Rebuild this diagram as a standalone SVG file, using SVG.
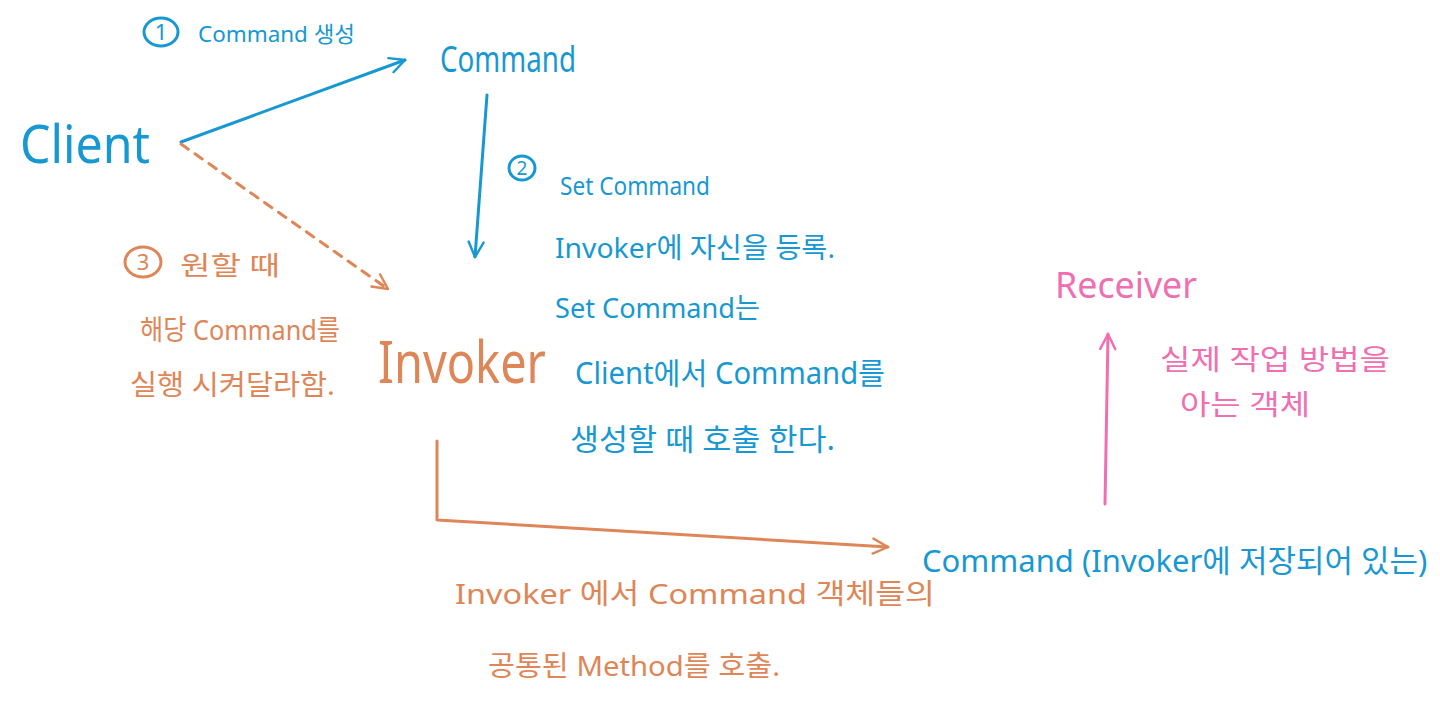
<svg xmlns="http://www.w3.org/2000/svg" width="1440" height="712" viewBox="0 0 1440 712">
<style>
text{font-family:"Noto Sans","Noto Sans CJK KR",sans-serif;font-weight:400}
.b{fill:#1798d2}.o{fill:#de8657}.p{fill:#f06fb1}
.lb{stroke:#1798d2;stroke-width:3;fill:none;stroke-linecap:round;stroke-linejoin:round}
.lo{stroke:#de8657;stroke-width:3;fill:none;stroke-linecap:round;stroke-linejoin:round}
.lp{stroke:#f06fb1;stroke-width:3;fill:none;stroke-linecap:round;stroke-linejoin:round}
</style>
<defs>
<marker id="mb" viewBox="0 0 12 12" refX="11" refY="6" markerWidth="6" markerHeight="6" orient="auto" markerUnits="strokeWidth"><path d="M1,1 L11,6 L1,11" fill="none" stroke="#1798d2" stroke-width="1.6" stroke-linecap="round" stroke-linejoin="round"/></marker>
<marker id="mo" viewBox="0 0 12 12" refX="11" refY="6" markerWidth="6" markerHeight="6" orient="auto" markerUnits="strokeWidth"><path d="M1,1 L11,6 L1,11" fill="none" stroke="#de8657" stroke-width="1.6" stroke-linecap="round" stroke-linejoin="round"/></marker>
<marker id="mp" viewBox="0 0 12 12" refX="11" refY="6" markerWidth="6" markerHeight="6" orient="auto" markerUnits="strokeWidth"><path d="M1,1 L11,6 L1,11" fill="none" stroke="#f06fb1" stroke-width="1.6" stroke-linecap="round" stroke-linejoin="round"/></marker>
</defs>
<rect width="1440" height="712" fill="#ffffff"/>
<g id="connectors">
<path class="lb" d="M181,142 L405,60" marker-end="url(#mb)"/>
<path class="lb" d="M487,95 L475,257" marker-end="url(#mb)"/>
<path class="lo" d="M181,144 L388,289" stroke-dasharray="9,8" marker-end="url(#mo)"/>
<path class="lo" d="M437,441 L437,520 L888,547" marker-end="url(#mo)"/>
<path class="lp" d="M1105,504 L1108,334" marker-end="url(#mp)"/>
</g>
<g id="client"><text class="b" x="20" y="163" font-size="52" textLength="130" lengthAdjust="spacingAndGlyphs">Client</text></g>
<g id="command-top"><text class="b" x="440" y="72" font-size="36" textLength="136" lengthAdjust="spacingAndGlyphs">Command</text></g>
<g id="invoker"><text class="o" x="378" y="383" font-size="58" textLength="168" lengthAdjust="spacingAndGlyphs">Invoker</text></g>
<g id="receiver"><text class="p" x="1055" y="298" font-size="36" textLength="142" lengthAdjust="spacingAndGlyphs">Receiver</text></g>
<g id="command-bottom"><text class="b" x="922" y="572" font-size="31">Command (Invoker에 저장되어 있는)</text></g>
<g id="note1">
<ellipse cx="161" cy="32" rx="17" ry="14" class="lb" stroke-width="3"/>
<text class="b" x="161" y="40" font-size="22" text-anchor="middle">1</text>
<text class="b" x="198" y="42" font-size="22" textLength="157" lengthAdjust="spacingAndGlyphs">Command 생성</text>
</g>
<g id="note2">
<ellipse cx="522" cy="168" rx="13" ry="12" class="lb" stroke-width="3"/>
<text class="b" x="522" y="175" font-size="19" text-anchor="middle">2</text>
<text class="b" x="560" y="195" font-size="26" textLength="150" lengthAdjust="spacingAndGlyphs">Set Command</text>
<text class="b" x="555" y="258" font-size="28" textLength="280" lengthAdjust="spacingAndGlyphs">Invoker에 자신을 등록.</text>
<text class="b" x="555" y="318" font-size="28" textLength="205" lengthAdjust="spacingAndGlyphs">Set Command는</text>
<text class="b" x="575" y="384" font-size="30" textLength="310" lengthAdjust="spacingAndGlyphs">Client에서 Command를</text>
<text class="b" x="570" y="450" font-size="30" textLength="265" lengthAdjust="spacingAndGlyphs">생성할 때 호출 한다.</text>
</g>
<g id="note3">
<ellipse cx="143" cy="262" rx="18" ry="15" class="lo" stroke-width="3"/>
<text class="o" x="143" y="270" font-size="22" text-anchor="middle">3</text>
<text class="o" x="180" y="275" font-size="26" textLength="100" lengthAdjust="spacingAndGlyphs">원할 때</text>
<text class="o" x="140" y="340" font-size="28" textLength="200" lengthAdjust="spacingAndGlyphs">해당 Command를</text>
<text class="o" x="130" y="395" font-size="28" textLength="205" lengthAdjust="spacingAndGlyphs">실행 시켜달라함.</text>
</g>
<g id="note-receiver">
<text class="p" x="1160" y="370" font-size="28" textLength="230" lengthAdjust="spacingAndGlyphs">실제 작업 방법을</text>
<text class="p" x="1180" y="415" font-size="28" textLength="130" lengthAdjust="spacingAndGlyphs">아는 객체</text>
</g>
<g id="note-invoker">
<text class="o" x="455" y="604" font-size="28" textLength="480" lengthAdjust="spacingAndGlyphs">Invoker 에서  Command 객체들의</text>
<text class="o" x="488" y="676" font-size="28" textLength="292" lengthAdjust="spacingAndGlyphs">공통된 Method를 호출.</text>
</g>
</svg>
